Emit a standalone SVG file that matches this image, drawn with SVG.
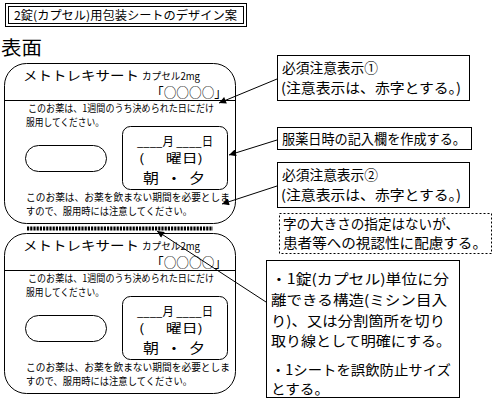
<svg xmlns="http://www.w3.org/2000/svg" width="496" height="403" viewBox="0 0 496 403">
<defs>
<style>
text{font-family:"Noto Sans CJK JP","Liberation Sans",sans-serif;fill:#000;white-space:pre}
.box{fill:#fff;stroke:#000;stroke-width:1}
.dot{fill:#fff;stroke:#000;stroke-width:1;stroke-dasharray:2 2}
.ln{fill:none;stroke:#000;stroke-width:1}
.conn{fill:none;stroke:#000;stroke-width:1;marker-end:url(#ah)}
.t10{font-size:10px}
.t12{font-size:12px}
.t13{font-size:13px}
.t14{font-size:14px}
.circ{font-size:13px}
</style>
<marker id="ah" viewBox="0 0 10 10" refX="10" refY="5" markerWidth="9" markerHeight="7" markerUnits="userSpaceOnUse" orient="auto">
<path d="M0,0 L10,5 L0,10 z" fill="#000"/>
</marker>
</defs>
<rect width="496" height="403" fill="#fff"/>

<g id="title">
<rect class="box" x="5.5" y="3.5" width="241" height="23"/>
<rect class="box" x="8.5" y="6.5" width="235" height="17"/>
<text class="t12" x="14" y="20" textLength="223" lengthAdjust="spacingAndGlyphs">2錠(カプセル)用包装シートのデザイン案</text>
</g>

<g id="heading">
<text x="1" y="55" style="font-size:19px" textLength="41" lengthAdjust="spacingAndGlyphs">表面</text>
</g>

<g id="sheet-upper">
<rect class="box" x="4.5" y="63.5" width="231" height="160" rx="22"/>
<line class="ln" x1="4.5" y1="100.5" x2="235.5" y2="100.5"/>
<text class="t13" x="23" y="80" textLength="116" lengthAdjust="spacingAndGlyphs">メトトレキサート</text>
<text class="t10" x="142" y="80" textLength="58" lengthAdjust="spacingAndGlyphs">カプセル2mg</text>
<text class="circ" x="151" y="97" textLength="76" lengthAdjust="spacingAndGlyphs">「○○○○」</text>
<text class="t10" x="28" y="112" textLength="186" lengthAdjust="spacingAndGlyphs">このお薬は、1週間のうち決められた日にだけ</text>
<text class="t10" x="26" y="126" textLength="78" lengthAdjust="spacingAndGlyphs">服用してください。</text>
<rect class="box" x="25.5" y="145.5" width="81" height="26" rx="13"/>
<rect class="box" x="122.5" y="126.5" width="105" height="63" rx="8"/>
<text class="t12" x="137" y="146" textLength="76" lengthAdjust="spacingAndGlyphs">____月 ____日</text>
<text class="t12" x="139" y="163" textLength="64" lengthAdjust="spacingAndGlyphs">(      曜日)</text>
<text class="t14" x="143" y="183" textLength="62" lengthAdjust="spacingAndGlyphs">朝  ・  夕</text>
<text class="t10" x="26" y="201" textLength="204" lengthAdjust="spacingAndGlyphs">このお薬は、お薬を飲まない期間を必要としま</text>
<text class="t10" x="26" y="215" textLength="166" lengthAdjust="spacingAndGlyphs">すので、服用時には注意してください。</text>
</g>

<g id="perforation">
<line x1="27" y1="228.5" x2="213" y2="228.5" stroke="#000" stroke-width="4" stroke-dasharray="2.2 1"/>
</g>

<g id="sheet-lower" transform="translate(0,170)">
<rect class="box" x="4.5" y="63.5" width="231" height="160" rx="22"/>
<line class="ln" x1="4.5" y1="100.5" x2="235.5" y2="100.5"/>
<text class="t13" x="23" y="80" textLength="116" lengthAdjust="spacingAndGlyphs">メトトレキサート</text>
<text class="t10" x="142" y="80" textLength="58" lengthAdjust="spacingAndGlyphs">カプセル2mg</text>
<text class="circ" x="151" y="97" textLength="76" lengthAdjust="spacingAndGlyphs">「○○○○」</text>
<text class="t10" x="28" y="112" textLength="186" lengthAdjust="spacingAndGlyphs">このお薬は、1週間のうち決められた日にだけ</text>
<text class="t10" x="26" y="126" textLength="78" lengthAdjust="spacingAndGlyphs">服用してください。</text>
<rect class="box" x="25.5" y="145.5" width="81" height="26" rx="13"/>
<rect class="box" x="122.5" y="126.5" width="105" height="63" rx="8"/>
<text class="t12" x="137" y="146" textLength="76" lengthAdjust="spacingAndGlyphs">____月 ____日</text>
<text class="t12" x="139" y="163" textLength="64" lengthAdjust="spacingAndGlyphs">(      曜日)</text>
<text class="t14" x="143" y="183" textLength="62" lengthAdjust="spacingAndGlyphs">朝  ・  夕</text>
<text class="t10" x="26" y="201" textLength="204" lengthAdjust="spacingAndGlyphs">このお薬は、お薬を飲まない期間を必要としま</text>
<text class="t10" x="26" y="215" textLength="166" lengthAdjust="spacingAndGlyphs">すので、服用時には注意してください。</text>
</g>

<g id="note1">
<rect class="box" x="277.5" y="55.5" width="192" height="45"/>
<text class="t14" x="282" y="73" textLength="96" lengthAdjust="spacingAndGlyphs">必須注意表示①</text>
<text class="t14" x="281" y="93" textLength="180" lengthAdjust="spacingAndGlyphs">(注意表示は、赤字とする。)</text>
</g>

<g id="note2">
<rect class="box" x="277.5" y="127.5" width="194" height="22"/>
<text class="t14" x="282" y="144" textLength="184" lengthAdjust="spacingAndGlyphs">服薬日時の記入欄を作成する。</text>
</g>

<g id="note3">
<rect class="box" x="277.5" y="162.5" width="192" height="45"/>
<text class="t14" x="282" y="180" textLength="96" lengthAdjust="spacingAndGlyphs">必須注意表示②</text>
<text class="t14" x="281" y="200" textLength="180" lengthAdjust="spacingAndGlyphs">(注意表示は、赤字とする。)</text>
</g>

<g id="note4">
<rect class="dot" x="279.5" y="213.5" width="212" height="40"/>
<text class="t14" x="283" y="229" textLength="176" lengthAdjust="spacingAndGlyphs">字の大きさの指定はないが、</text>
<text class="t14" x="283" y="248" textLength="204" lengthAdjust="spacingAndGlyphs">患者等への視認性に配慮する。</text>
</g>

<g id="note5">
<rect class="box" x="266.5" y="260.5" width="193" height="137"/>
<text class="t14" x="271" y="284" textLength="178" lengthAdjust="spacingAndGlyphs">・1錠(カプセル)単位に分</text>
<text class="t14" x="271" y="305" textLength="176" lengthAdjust="spacingAndGlyphs">離できる構造(ミシン目入</text>
<text class="t14" x="271" y="326" textLength="174" lengthAdjust="spacingAndGlyphs">り)、又は分割箇所を切り</text>
<text class="t14" x="271" y="346" textLength="180" lengthAdjust="spacingAndGlyphs">取り線として明確にする。</text>
<text class="t14" x="271" y="375" textLength="180" lengthAdjust="spacingAndGlyphs">・1シートを誤飲防止サイズ</text>
<text class="t14" x="271" y="394" textLength="58" lengthAdjust="spacingAndGlyphs">とする。</text>
</g>

<g id="connectors">
<line class="conn" x1="277" y1="79" x2="219" y2="103"/>
<line class="conn" x1="277" y1="140" x2="229" y2="155"/>
<line class="conn" x1="277" y1="186" x2="222" y2="204"/>
<line class="conn" x1="266" y1="302" x2="157" y2="231"/>
</g>
</svg>
